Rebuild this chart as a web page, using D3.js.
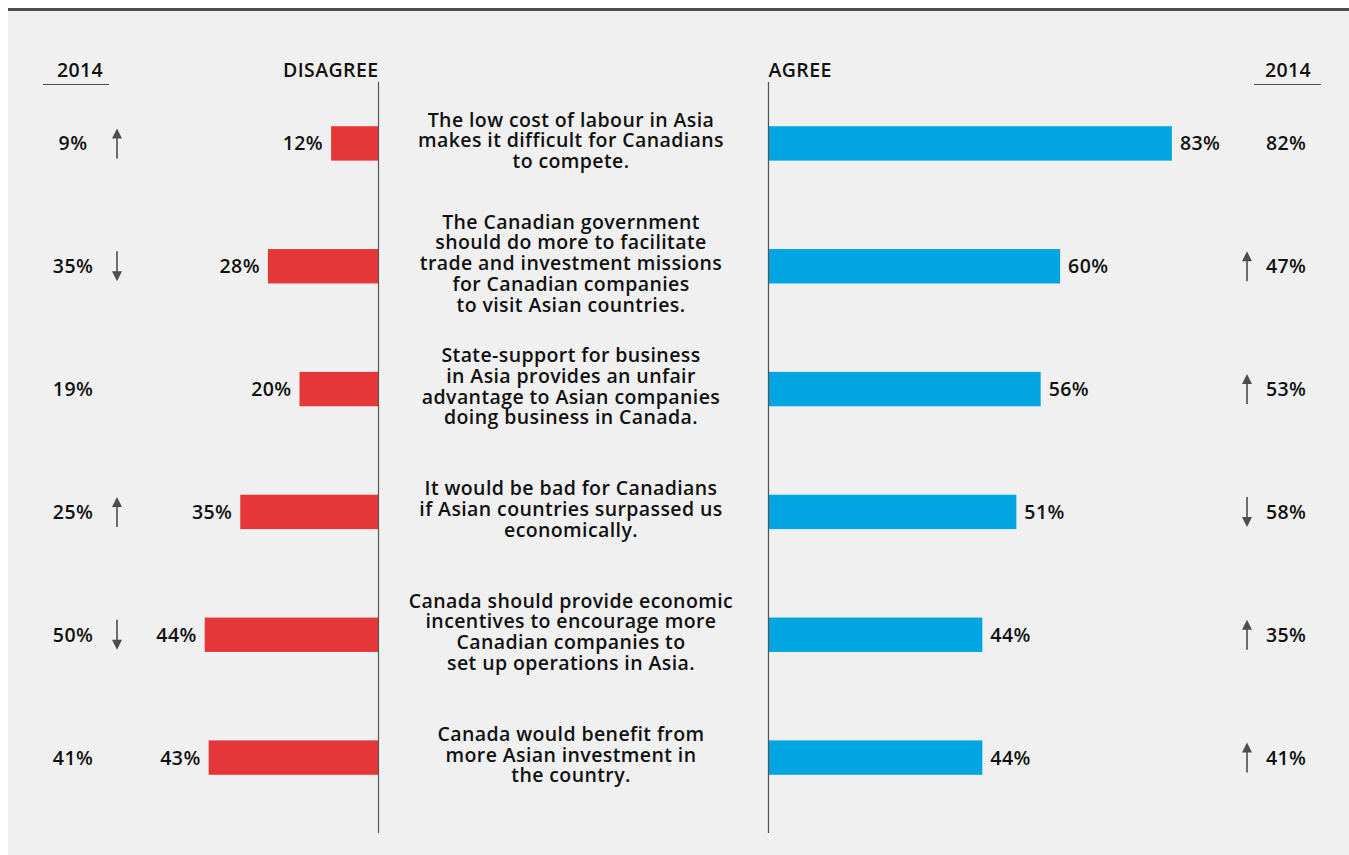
<!DOCTYPE html>
<html>
<head>
<meta charset="utf-8">
<script src="https://cdn.jsdelivr.net/npm/d3@7"></script>
<style>
  html, body { margin: 0; padding: 0; background: #ffffff; }
  svg { display: block; }
  text { font-family: "Open Sans", Lato, sans-serif; font-weight: 600; fill: #111; letter-spacing: 0.4px; }
</style>
</head>
<body>
<svg id="chart" width="1349" height="855"></svg>
<script>
const statements = [
  ["The low cost of labour in Asia", "makes it difficult for Canadians", "to compete."],
  ["The Canadian government", "should do more to facilitate", "trade and investment missions", "for Canadian companies", "to visit Asian countries."],
  ["State-support for business", "in Asia provides an unfair", "advantage to Asian companies", "doing business in Canada."],
  ["It would be bad for Canadians", "if Asian countries surpassed us", "economically."],
  ["Canada should provide economic", "incentives to encourage more", "Canadian companies to", "set up operations in Asia."],
  ["Canada would benefit from", "more Asian investment in", "the country."]
];
const disagree = [12, 28, 20, 35, 44, 43];
const agree = [83, 60, 56, 51, 44, 44];
const disagree2014 = [9, 35, 19, 25, 50, 41];
const agree2014 = [82, 47, 53, 58, 35, 41];
const disagreeChange = ["up", "down", null, "up", "down", null];
const agreeChange = [null, "up", "up", "down", "up", "up"];
const headers = { left2014: "2014", disagree: "DISAGREE", agree: "AGREE", right2014: "2014" };

const svg = d3.select("#chart");
const W = 1349, H = 855;
const RED = "#e5363a", BLUE = "#00a5e1", GREY = "#4d4d4d";

// panel
svg.append("rect").attr("x", 8).attr("y", 10).attr("width", W - 8).attr("height", H - 10).attr("fill", "#f0f0f0");
svg.append("line").attr("x1", 8).attr("x2", W).attr("y1", 9.5).attr("y2", 9.5).attr("stroke", GREY).attr("stroke-width", 3);

const idx = d3.range(statements.length);
const y = d3.scaleBand().domain(idx).range([82, 819]).paddingInner(0.72).paddingOuter(0.36);
const leftAxisX = 378.5, rightAxisX = 768.5;
const xDis = d3.scaleLinear().domain([0, 100]).range([leftAxisX, leftAxisX - 395]);
const xAgr = d3.scaleLinear().domain([0, 100]).range([rightAxisX, rightAxisX + 486]);

const fs = 19.5;

// headers
svg.append("text").attr("x", 80).attr("y", 77).attr("text-anchor", "middle").attr("font-size", fs).text(headers.left2014);
svg.append("line").attr("x1", 43).attr("x2", 109).attr("y1", 84.5).attr("y2", 84.5).attr("stroke", GREY).attr("stroke-width", 1.2);
svg.append("text").attr("x", leftAxisX).attr("y", 77).attr("text-anchor", "end").attr("font-size", fs).text(headers.disagree);
svg.append("text").attr("x", rightAxisX).attr("y", 77).attr("text-anchor", "start").attr("font-size", fs).text(headers.agree);
svg.append("text").attr("x", 1288).attr("y", 77).attr("text-anchor", "middle").attr("font-size", fs).text(headers.right2014);
svg.append("line").attr("x1", 1254).attr("x2", 1321).attr("y1", 84.5).attr("y2", 84.5).attr("stroke", GREY).attr("stroke-width", 1.2);

// bars
svg.selectAll(".dbar").data(idx).join("rect")
  .attr("x", i => xDis(disagree[i])).attr("y", i => y(i))
  .attr("width", i => xDis(0) - xDis(disagree[i])).attr("height", y.bandwidth())
  .attr("fill", RED);
svg.selectAll(".abar").data(idx).join("rect")
  .attr("x", xAgr(0)).attr("y", i => y(i))
  .attr("width", i => xAgr(agree[i]) - xAgr(0)).attr("height", y.bandwidth())
  .attr("fill", BLUE);

// axes lines
[leftAxisX, rightAxisX].forEach(x => {
  svg.append("line").attr("x1", x).attr("x2", x).attr("y1", 82).attr("y2", 833).attr("stroke", "#555").attr("stroke-width", 1.2);
});

const cy = i => y(i) + y.bandwidth() / 2;

// value labels
svg.selectAll(".dlab").data(idx).join("text")
  .attr("x", i => xDis(disagree[i]) - 8).attr("y", i => cy(i)).attr("dy", "0.36em")
  .attr("text-anchor", "end").attr("font-size", fs).text(i => disagree[i] + "%");
svg.selectAll(".alab").data(idx).join("text")
  .attr("x", i => xAgr(agree[i]) + 8).attr("y", i => cy(i)).attr("dy", "0.36em")
  .attr("text-anchor", "start").attr("font-size", fs).text(i => agree[i] + "%");

// 2014 values
svg.selectAll(".d14").data(idx).join("text")
  .attr("x", 73).attr("y", i => cy(i)).attr("dy", "0.36em")
  .attr("text-anchor", "middle").attr("font-size", fs).text(i => disagree2014[i] + "%");
svg.selectAll(".a14").data(idx).join("text")
  .attr("x", 1266).attr("y", i => cy(i)).attr("dy", "0.36em")
  .attr("text-anchor", "start").attr("font-size", fs).text(i => agree2014[i] + "%");

// arrows
function arrow(x, c, dir) {
  if (!dir) return;
  const g = svg.append("g").attr("transform", `translate(${x},${c})`);
  const s = dir === "up" ? -1 : 1;
  g.append("line").attr("x1", 0).attr("x2", 0).attr("y1", -15 * s + 0).attr("y2", 6 * s)
    .attr("stroke", GREY).attr("stroke-width", 1.6);
  g.append("path").attr("d", `M${-5},${5 * s} L0,${15 * s} L5,${5 * s} Z`).attr("fill", GREY);
}
idx.forEach(i => {
  arrow(117, cy(i), disagreeChange[i]);
  arrow(1247, cy(i), agreeChange[i]);
});

// statements
const lh = 20.8;
idx.forEach(i => {
  const lines = statements[i];
  const t = svg.append("text").attr("text-anchor", "middle").attr("font-size", fs);
  const top = cy(i) - 3 - (lines.length - 1) * lh / 2;
  lines.forEach((l, k) => {
    t.append("tspan").attr("x", 571).attr("y", top + k * lh).attr("dy", "0.36em").text(l);
  });
});
</script>
</body>
</html>
